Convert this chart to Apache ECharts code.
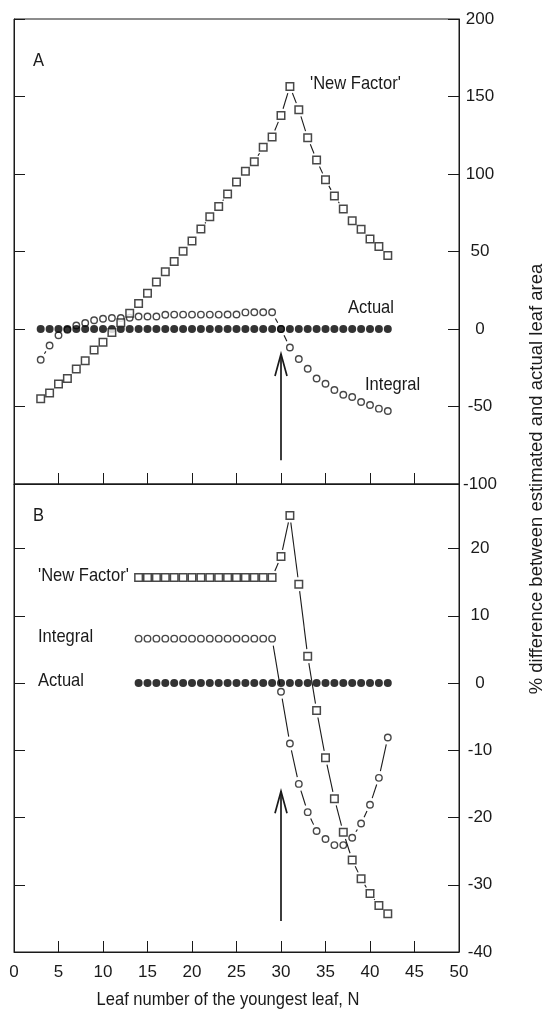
<!DOCTYPE html>
<html>
<head>
<meta charset="utf-8">
<script src="https://cdn.jsdelivr.net/npm/echarts@6/dist/echarts.min.js"></script>
<style>
html, body { margin: 0; padding: 0; background: #fff; }
#chart { width: 548px; height: 1012px; }
</style>
</head>
<body>
<div id="chart"></div>
<script>
// panel A (leaf 3..42)
var leafA = [3, 4, 5, 6, 7, 8, 9, 10, 11, 12, 13, 14, 15, 16, 17, 18, 19, 20, 21, 22,
  23, 24, 25, 26, 27, 28, 29, 30, 31, 32, 33, 34, 35, 36, 37, 38, 39, 40, 41, 42];
var newFactorA = [-45, -41.3, -35.5, -31.9, -25.8, -20.5, -13.5, -8.6, -2.2, 4.1,
  10.1, 16.5, 23, 30.3, 37, 43.6, 50.1, 56.8, 64.5, 72.5,
  79.1, 87.1, 94.8, 101.7, 107.9, 117.2, 123.9, 137.8, 156.5, 141.5,
  123.4, 109, 96.3, 85.8, 77.4, 69.9, 64.3, 58.1, 53.3, 47.5];
var integralA = [-19.8, -10.6, -4, -0.5, 2.3, 3.9, 5.6, 6.6, 7.1, 7.1,
  7.3, 8.1, 8.1, 8.1, 9.2, 9.3, 9.3, 9.3, 9.3, 9.3,
  9.3, 9.4, 9.4, 10.7, 10.8, 10.8, 10.8, 0, -11.9, -19.4,
  -25.6, -31.9, -35.3, -39.4, -42.4, -43.9, -47.1, -49, -51.4, -52.9];
var actualA = [0, 0, 0, 0, 0, 0, 0, 0, 0, 0, 0, 0, 0, 0, 0, 0, 0, 0, 0, 0,
  0, 0, 0, 0, 0, 0, 0, 0, 0, 0, 0, 0, 0, 0, 0, 0, 0, 0, 0, 0];

// panel B (leaf 14..42)
var leafB = [14, 15, 16, 17, 18, 19, 20, 21, 22, 23, 24, 25, 26, 27, 28, 29,
  30, 31, 32, 33, 34, 35, 36, 37, 38, 39, 40, 41, 42];
var newFactorB = [15.7, 15.7, 15.7, 15.7, 15.7, 15.7, 15.7, 15.7, 15.7, 15.7, 15.7, 15.7, 15.7, 15.7, 15.7, 15.7,
  18.8, 24.9, 14.7, 4, -4.1, -11.1, -17.2, -22.2, -26.3, -29.1, -31.3, -33.1, -34.3];
var integralB = [6.6, 6.6, 6.6, 6.6, 6.6, 6.6, 6.6, 6.6, 6.6, 6.6, 6.6, 6.6, 6.6, 6.6, 6.6, 6.6,
  -1.3, -9, -15, -19.2, -22, -23.2, -24.1, -24.1, -23, -20.9, -18.1, -14.1, -8.1];
var actualB = [0, 0, 0, 0, 0, 0, 0, 0, 0, 0, 0, 0, 0, 0, 0, 0,
  0, 0, 0, 0, 0, 0, 0, 0, 0, 0, 0, 0, 0];

// arrows: [leaf, from, to]
var arrowA = [[30, -84.7, -16.1]];
var arrowB = [[30, -35.4, -16.1]];

var FONT = "'Liberation Sans Narrow', 'Liberation Sans', Arial, sans-serif";
var INK = '#1a1a1a';
var GAP = 7;
var NARROW = 0.87; // squeeze regular sans to look like the narrow face

function pairs(xs, ys) {
  var out = [];
  for (var i = 0; i < xs.length; i++) out.push([xs[i], ys[i]]);
  return out;
}

function segments(xs, ys) {
  var out = [];
  for (var i = 0; i < xs.length - 1; i++) out.push([xs[i], ys[i], xs[i + 1], ys[i + 1]]);
  return out;
}

// connecting line that stops short of each marker
function gappedLine(params, api) {
  var p1 = api.coord([api.value(0), api.value(1)]);
  var p2 = api.coord([api.value(2), api.value(3)]);
  var dx = p2[0] - p1[0], dy = p2[1] - p1[1];
  var len = Math.sqrt(dx * dx + dy * dy);
  if (len <= 2 * GAP + 1) return null;
  var ux = dx / len, uy = dy / len;
  return {
    type: 'line',
    shape: { x1: p1[0] + ux * GAP, y1: p1[1] + uy * GAP, x2: p2[0] - ux * GAP, y2: p2[1] - uy * GAP },
    style: { stroke: INK, lineWidth: 1.1 }
  };
}

function drawArrow(params, api) {
  var b = api.coord([api.value(0), api.value(1)]);
  var t = api.coord([api.value(0), api.value(2)]);
  return {
    type: 'group',
    children: [
      { type: 'line', shape: { x1: b[0], y1: b[1], x2: t[0], y2: t[1] }, style: { stroke: INK, lineWidth: 1.7 } },
      { type: 'polyline', shape: { points: [[t[0] - 6, t[1] + 22], [t[0], t[1]], [t[0] + 6, t[1] + 22]] },
        style: { stroke: INK, lineWidth: 1.7, fill: null } }
    ]
  };
}

function lineSeries(xs, ys, idx) {
  return {
    type: 'custom', xAxisIndex: idx, yAxisIndex: idx * 2,
    data: segments(xs, ys), encode: { x: [0, 2], y: [1, 3] },
    renderItem: gappedLine, silent: true, z: 1
  };
}

function markSeries(xs, ys, idx, kind) {
  var s = {
    type: 'scatter', xAxisIndex: idx, yAxisIndex: idx * 2,
    data: pairs(xs, ys), silent: true, z: 3
  };
  if (kind == 'square') {
    s.symbol = 'rect'; s.symbolSize = 7.5;
    s.itemStyle = { color: '#fff', borderColor: INK, borderWidth: 1.5 };
    s.z = 5;
  } else if (kind == 'open') {
    s.symbol = 'circle'; s.symbolSize = 6.5;
    s.itemStyle = { color: '#fff', borderColor: INK, borderWidth: 1.4 };
  } else {
    s.symbol = 'circle'; s.symbolSize = 8;
    s.itemStyle = { color: '#000', borderWidth: 0 };
    s.z = 4;
  }
  return s;
}

function xAxis(idx, labels) {
  return {
    type: 'value', gridIndex: idx, min: 0, max: 50, interval: 5, position: 'bottom',
    axisLine: { show: true, onZero: false, lineStyle: { color: INK, width: 1 } },
    axisTick: { inside: true, length: 11, lineStyle: { color: INK } },
    axisLabel: { show: labels, margin: 12, color: INK, fontFamily: FONT, fontSize: 17 },
    splitLine: { show: false }
  };
}

function yAxis(idx, side, min, max, step) {
  return {
    type: 'value', gridIndex: idx, position: side, min: min, max: max, interval: step,
    axisLine: { show: true, onZero: false, lineStyle: { color: INK, width: 1 } },
    axisTick: { inside: true, length: 11, lineStyle: { color: INK } },
    axisLabel: {
      show: side == 'right', margin: 21, align: 'center', color: INK, fontFamily: FONT, fontSize: 17,
      formatter: function (v) { return v % step == 0 ? String(v) : ''; }
    },
    splitLine: { show: false }
  };
}

function label(text, x, y, align) {
  return {
    type: 'text', x: x, y: y, scaleX: NARROW,
    style: { text: text, fill: INK, font: '19px ' + FONT, textAlign: align || 'left', textVerticalAlign: 'middle' }
  };
}

var chart = echarts.init(document.getElementById('chart'));
chart.setOption({
  animation: false,
  backgroundColor: '#fff',
  grid: [
    { left: 14, top: 19, width: 445, height: 465, show: true, borderColor: INK, borderWidth: 1 },
    { left: 14, top: 484, width: 445, height: 468, show: true, borderColor: INK, borderWidth: 1 }
  ],
  xAxis: [xAxis(0, false), xAxis(1, true)],
  yAxis: [
    yAxis(0, 'left', -100, 200, 50), yAxis(0, 'right', -100, 200, 50),
    yAxis(1, 'left', -40, 29.6, 10), yAxis(1, 'right', -40, 29.6, 10)
  ],
  series: [
    lineSeries(leafA, newFactorA, 0),
    lineSeries(leafA, integralA, 0),
    markSeries(leafA, integralA, 0, 'open'),
    markSeries(leafA, actualA, 0, 'filled'),
    markSeries(leafA, newFactorA, 0, 'square'),
    { type: 'custom', xAxisIndex: 0, yAxisIndex: 0, data: arrowA, encode: { x: 0, y: [1, 2] }, renderItem: drawArrow, silent: true, z: 6 },

    lineSeries(leafB, newFactorB, 1),
    lineSeries(leafB, integralB, 1),
    markSeries(leafB, integralB, 1, 'open'),
    markSeries(leafB, actualB, 1, 'filled'),
    markSeries(leafB, newFactorB, 1, 'square'),
    { type: 'custom', xAxisIndex: 1, yAxisIndex: 2, data: arrowB, encode: { x: 0, y: [1, 2] }, renderItem: drawArrow, silent: true, z: 6 }
  ],
  graphic: [
    label('A', 33, 61),
    label("'New Factor'", 310, 84),
    label('Actual', 348, 308),
    label('Integral', 365, 385),
    label('B', 33, 516),
    label("'New Factor'", 38, 576),
    label('Integral', 38, 637),
    label('Actual', 38, 681),
    label('Leaf number of the youngest leaf, N', 228, 1000, 'center'),
    { type: 'text', x: 537, y: 479, rotation: Math.PI / 2,
      style: { text: '% difference between estimated and actual leaf area', fill: INK, font: '18.5px ' + FONT, textAlign: 'center', textVerticalAlign: 'middle' } }
  ]
});
</script>
</body>
</html>
